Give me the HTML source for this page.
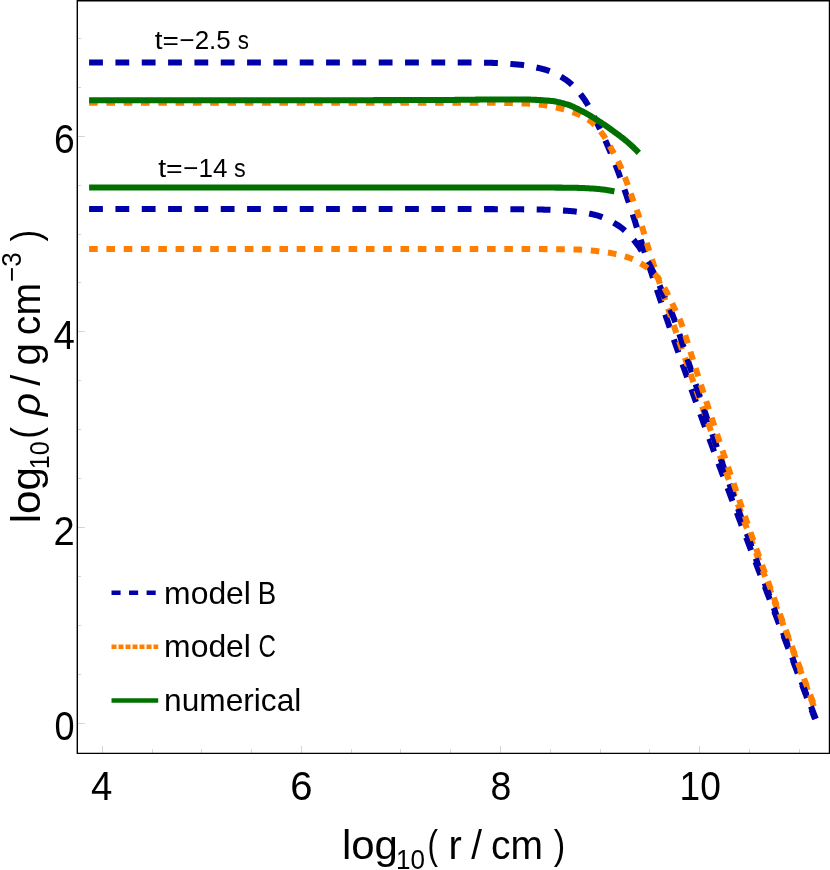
<!DOCTYPE html>
<html><head><meta charset="utf-8"><title>chart</title>
<style>html,body{margin:0;padding:0;background:#fff;}body{width:830px;height:870px;position:relative;overflow:hidden;font-family:"Liberation Sans",sans-serif;}</style></head>
<body>
<svg width="830" height="870" viewBox="0 0 830 870" style="position:absolute;left:0;top:0;will-change:transform;font-family:'Liberation Sans',sans-serif">
<rect x="0" y="0" width="830" height="870" fill="#fff"/>
<path d="M102,746.0 h1 V753.4 h-1 Z M152,749.3 h1 V753.4 h-1 Z M201,749.3 h1 V753.4 h-1 Z M251,749.3 h1 V753.4 h-1 Z M301,746.0 h1 V753.4 h-1 Z M351,749.3 h1 V753.4 h-1 Z M400,749.3 h1 V753.4 h-1 Z M450,749.3 h1 V753.4 h-1 Z M500,746.0 h1 V753.4 h-1 Z M550,749.3 h1 V753.4 h-1 Z M600,749.3 h1 V753.4 h-1 Z M649,749.3 h1 V753.4 h-1 Z M699,746.0 h1 V753.4 h-1 Z M749,749.3 h1 V753.4 h-1 Z M799,749.3 h1 V753.4 h-1 Z M77.3,723 H84.8 v1 H77.3 Z M77.3,674 H81.2 v1 H77.3 Z M77.3,625 H81.2 v1 H77.3 Z M77.3,576 H81.2 v1 H77.3 Z M77.3,527 H84.8 v1 H77.3 Z M77.3,478 H81.2 v1 H77.3 Z M77.3,429 H81.2 v1 H77.3 Z M77.3,380 H81.2 v1 H77.3 Z M77.3,331 H84.8 v1 H77.3 Z M77.3,282 H81.2 v1 H77.3 Z M77.3,234 H81.2 v1 H77.3 Z M77.3,185 H81.2 v1 H77.3 Z M77.3,136 H84.8 v1 H77.3 Z M77.3,87 H81.2 v1 H77.3 Z M77.3,38 H81.2 v1 H77.3 Z" fill="#d4d4d4" stroke="none"/>
<path d="M89.10,62.50 L90.60,62.50 L92.10,62.50 L93.60,62.50 L95.10,62.50 L96.60,62.50 L98.10,62.50 L99.60,62.50 L101.10,62.50 L102.60,62.50 L104.10,62.50 L105.60,62.50 L107.10,62.50 L108.60,62.50 L110.10,62.50 L111.60,62.50 L113.10,62.50 L114.60,62.50 L116.10,62.50 L117.60,62.50 L119.10,62.50 L120.60,62.50 L122.10,62.50 L123.60,62.50 L125.10,62.50 L126.60,62.50 L128.10,62.50 L129.60,62.50 L131.10,62.50 L132.60,62.50 L134.10,62.50 L135.60,62.50 L137.10,62.50 L138.60,62.50 L140.10,62.50 L141.60,62.50 L143.10,62.50 L144.60,62.50 L146.10,62.50 L147.60,62.50 L149.10,62.50 L150.60,62.50 L152.10,62.50 L153.60,62.50 L155.10,62.50 L156.60,62.50 L158.10,62.50 L159.60,62.50 L161.10,62.50 L162.60,62.50 L164.10,62.50 L165.60,62.50 L167.10,62.50 L168.60,62.50 L170.10,62.50 L171.60,62.50 L173.10,62.50 L174.60,62.50 L176.10,62.50 L177.60,62.50 L179.10,62.50 L180.60,62.50 L182.10,62.50 L183.60,62.50 L185.10,62.50 L186.60,62.50 L188.10,62.50 L189.60,62.50 L191.10,62.50 L192.60,62.50 L194.10,62.50 L195.60,62.50 L197.10,62.50 L198.60,62.50 L200.10,62.50 L201.60,62.50 L203.10,62.50 L204.60,62.50 L206.10,62.50 L207.60,62.50 L209.10,62.50 L210.60,62.50 L212.10,62.50 L213.60,62.50 L215.10,62.50 L216.60,62.50 L218.10,62.50 L219.60,62.50 L221.10,62.50 L222.60,62.50 L224.10,62.50 L225.60,62.50 L227.10,62.50 L228.60,62.50 L230.10,62.50 L231.60,62.50 L233.10,62.50 L234.60,62.50 L236.10,62.50 L237.60,62.50 L239.10,62.50 L240.60,62.50 L242.10,62.50 L243.60,62.50 L245.10,62.50 L246.60,62.50 L248.10,62.50 L249.60,62.50 L251.10,62.50 L252.60,62.50 L254.10,62.50 L255.60,62.50 L257.10,62.50 L258.60,62.50 L260.10,62.50 L261.60,62.50 L263.10,62.50 L264.60,62.50 L266.10,62.50 L267.60,62.50 L269.10,62.50 L270.60,62.50 L272.10,62.50 L273.60,62.50 L275.10,62.50 L276.60,62.50 L278.10,62.50 L279.60,62.50 L281.10,62.50 L282.60,62.50 L284.10,62.50 L285.60,62.50 L287.10,62.50 L288.60,62.50 L290.10,62.50 L291.60,62.50 L293.10,62.50 L294.60,62.50 L296.10,62.50 L297.60,62.50 L299.10,62.50 L300.60,62.50 L302.10,62.50 L303.60,62.50 L305.10,62.50 L306.60,62.50 L308.10,62.50 L309.60,62.50 L311.10,62.50 L312.60,62.50 L314.10,62.50 L315.60,62.50 L317.10,62.50 L318.60,62.50 L320.10,62.50 L321.60,62.50 L323.10,62.50 L324.60,62.50 L326.10,62.50 L327.60,62.50 L329.10,62.50 L330.60,62.50 L332.10,62.50 L333.60,62.50 L335.10,62.50 L336.60,62.50 L338.10,62.50 L339.60,62.50 L341.10,62.50 L342.60,62.50 L344.10,62.50 L345.60,62.50 L347.10,62.50 L348.60,62.50 L350.10,62.50 L351.60,62.50 L353.10,62.50 L354.60,62.50 L356.10,62.50 L357.60,62.50 L359.10,62.50 L360.60,62.50 L362.10,62.50 L363.60,62.50 L365.10,62.50 L366.60,62.50 L368.10,62.50 L369.60,62.50 L371.10,62.50 L372.60,62.50 L374.10,62.50 L375.60,62.50 L377.10,62.50 L378.60,62.50 L380.10,62.50 L381.60,62.50 L383.10,62.50 L384.60,62.50 L386.10,62.50 L387.60,62.50 L389.10,62.50 L390.60,62.50 L392.10,62.50 L393.60,62.50 L395.10,62.50 L396.60,62.50 L398.10,62.50 L399.60,62.50 L401.10,62.50 L402.60,62.50 L404.10,62.50 L405.60,62.50 L407.10,62.50 L408.60,62.50 L410.10,62.50 L411.60,62.50 L413.10,62.50 L414.60,62.50 L416.10,62.50 L417.60,62.50 L419.10,62.50 L420.60,62.50 L422.10,62.50 L423.60,62.50 L425.10,62.50 L426.60,62.50 L428.10,62.50 L429.60,62.50 L431.10,62.50 L432.60,62.50 L434.10,62.50 L435.60,62.50 L437.10,62.50 L438.60,62.50 L440.10,62.50 L441.60,62.50 L443.10,62.50 L444.60,62.50 L446.10,62.50 L447.60,62.50 L449.10,62.50 L450.60,62.50 L452.10,62.50 L453.60,62.50 L455.10,62.51 L456.60,62.51 L458.10,62.51 L459.60,62.52 L461.10,62.52 L462.60,62.53 L464.10,62.54 L465.60,62.54 L467.10,62.55 L468.60,62.56 L470.10,62.57 L471.60,62.58 L473.10,62.60 L474.60,62.61 L476.10,62.62 L477.60,62.63 L479.10,62.65 L480.60,62.66 L482.10,62.68 L483.60,62.69 L485.10,62.71 L486.60,62.73 L488.10,62.76 L489.60,62.80 L491.10,62.84 L492.60,62.89 L494.10,62.95 L495.60,63.02 L497.11,63.09 L498.61,63.16 L500.11,63.24 L501.61,63.33 L503.11,63.42 L504.61,63.52 L506.10,63.62 L507.60,63.72 L509.10,63.83 L510.59,63.95 L512.09,64.06 L513.58,64.18 L515.07,64.30 L516.56,64.43 L518.05,64.56 L519.54,64.70 L521.03,64.86 L522.53,65.04 L524.03,65.24 L525.53,65.45 L527.02,65.68 L528.52,65.92 L530.01,66.18 L531.50,66.45 L532.99,66.74 L534.46,67.04 L535.93,67.35 L537.39,67.68 L538.85,68.01 L540.29,68.36 L541.72,68.72 L543.13,69.09 L544.55,69.49 L545.98,69.94 L547.40,70.42 L548.83,70.93 L550.25,71.49 L551.67,72.07 L553.08,72.69 L554.48,73.33 L555.87,74.00 L557.25,74.69 L558.60,75.41 L559.94,76.15 L561.25,76.90 L562.53,77.67 L563.79,78.46 L565.02,79.25 L566.21,80.06 L567.38,80.88 L568.52,81.76 L569.66,82.67 L570.78,83.64 L571.89,84.64 L572.98,85.69 L574.05,86.76 L575.11,87.87 L576.15,89.00 L577.17,90.16 L578.17,91.33 L579.15,92.52 L580.12,93.72 L581.06,94.93 L581.97,96.15 L582.87,97.36 L583.74,98.58 L584.59,99.78 L585.41,101.00 L586.21,102.23 L586.99,103.49 L587.76,104.76 L588.50,106.05 L589.23,107.36 L589.95,108.68 L590.65,110.01 L591.34,111.35 L592.03,112.70 L592.70,114.06 L593.37,115.42 L594.03,116.78 L594.69,118.15 L595.34,119.51 L596.00,120.88 L596.65,122.24 L597.31,123.60 L597.97,124.94 L598.64,126.29 L599.30,127.63 L599.95,128.98 L600.61,130.33 L601.26,131.68 L601.90,133.04 L602.54,134.40 L603.18,135.76 L603.81,137.12 L604.44,138.48 L605.06,139.85 L605.68,141.21 L606.30,142.58 L606.91,143.95 L607.51,145.32 L608.11,146.70 L608.70,148.07 L609.29,149.45 L609.88,150.83 L610.46,152.22 L611.03,153.60 L611.61,154.99 L612.17,156.38 L612.74,157.77 L613.30,159.16 L613.85,160.56 L614.40,161.95 L614.95,163.35 L615.49,164.75 L616.03,166.15 L616.57,167.55 L617.10,168.95 L617.63,170.35 L618.16,171.76 L618.68,173.16 L619.19,174.57 L619.71,175.98 L620.21,177.39 L620.72,178.80 L621.22,180.22 L621.72,181.63 L622.22,183.05 L622.71,184.47 L623.20,185.88 L623.69,187.30 L624.18,188.72 L624.67,190.14 L625.16,191.56 L625.64,192.98 L626.12,194.40 L626.61,195.82 L627.09,197.24 L627.57,198.66 L628.05,200.08 L628.53,201.50 L629.00,202.93 L629.48,204.35 L629.95,205.77 L630.42,207.20 L630.89,208.62 L631.36,210.05 L631.82,211.48 L632.28,212.90 L632.74,214.33 L633.20,215.76 L633.65,217.19 L634.11,218.61 L634.56,220.04 L635.00,221.48 L635.45,222.91 L635.89,224.34 L636.34,225.77 L636.78,227.21 L637.23,228.64 L637.67,230.07 L638.12,231.51 L638.57,232.94 L639.02,234.37 L639.47,235.80 L639.92,237.23 L640.37,238.66 L640.82,240.09 L641.28,241.52 L641.73,242.95 L642.19,244.38 L642.64,245.81 L643.10,247.24 L643.55,248.67 L644.01,250.09 L644.47,251.52 L644.93,252.95 L645.38,254.38 L645.84,255.81 L646.30,257.24 L646.77,258.66 L647.23,260.09 L647.69,261.52 L648.15,262.94 L648.61,264.37 L649.08,265.80 L649.54,267.22 L650.01,268.65 L650.47,270.08 L650.94,271.50 L651.41,272.93 L651.87,274.35 L652.34,275.78 L652.81,277.20 L653.28,278.63 L653.75,280.05 L654.22,281.48 L654.69,282.90 L655.16,284.32 L655.63,285.75 L656.10,287.17 L656.58,288.60 L657.05,290.02 L657.53,291.44 L658.00,292.86 L658.48,294.29 L658.95,295.71 L659.43,297.13 L659.90,298.55 L660.38,299.98 L660.86,301.40 L661.34,302.82 L661.82,304.24 L662.30,305.66 L662.78,307.08 L663.26,308.51 L663.74,309.93 L664.22,311.35 L664.70,312.77 L665.18,314.19 L665.66,315.61 L666.15,317.03 L666.63,318.45 L667.12,319.87 L667.60,321.29 L668.09,322.71 L668.57,324.12 L669.06,325.54 L669.55,326.96 L670.03,328.38 L670.52,329.80 L671.01,331.22 L671.50,332.64 L671.99,334.05 L672.48,335.47 L672.97,336.89 L673.46,338.31 L673.95,339.72 L674.44,341.14 L674.93,342.56 L675.42,343.98 L675.92,345.39 L676.41,346.81 L676.90,348.23 L677.40,349.64 L677.89,351.06 L678.39,352.47 L678.88,353.89 L679.38,355.31 L679.88,356.72 L680.37,358.14 L680.87,359.55 L681.37,360.97 L681.86,362.38 L682.36,363.80 L682.86,365.21 L683.36,366.63 L683.86,368.04 L684.36,369.45 L684.86,370.87 L685.36,372.28 L685.86,373.70 L686.36,375.11 L686.87,376.52 L687.37,377.94 L687.87,379.35 L688.37,380.76 L688.88,382.18 L689.38,383.59 L689.89,385.00 L690.39,386.41 L690.90,387.83 L691.40,389.24 L691.91,390.65 L692.41,392.06 L692.92,393.47 L693.43,394.89 L693.93,396.30 L694.44,397.71 L694.95,399.12 L695.46,400.53 L695.97,401.94 L696.47,403.35 L696.98,404.77 L697.49,406.18 L698.00,407.59 L698.51,409.00 L699.02,410.41 L699.54,411.82 L700.05,413.23 L700.56,414.64 L701.07,416.05 L701.58,417.46 L702.09,418.87 L702.61,420.28 L703.12,421.69 L703.63,423.10 L704.15,424.51 L704.66,425.92 L705.18,427.32 L705.69,428.73 L706.21,430.14 L706.72,431.55 L707.24,432.96 L707.75,434.37 L708.27,435.78 L708.78,437.18 L709.30,438.59 L709.82,440.00 L710.33,441.41 L710.85,442.82 L711.37,444.22 L711.89,445.63 L712.41,447.04 L712.92,448.45 L713.44,449.86 L713.96,451.26 L714.48,452.67 L715.00,454.08 L715.52,455.48 L716.04,456.89 L716.56,458.30 L717.08,459.70 L717.60,461.11 L718.12,462.52 L718.65,463.92 L719.17,465.33 L719.69,466.74 L720.21,468.14 L720.73,469.55 L721.26,470.96 L721.78,472.36 L722.30,473.77 L722.82,475.17 L723.35,476.58 L723.87,477.98 L724.39,479.39 L724.92,480.80 L725.44,482.20 L725.97,483.61 L726.49,485.01 L727.02,486.42 L727.54,487.82 L728.07,489.23 L728.59,490.63 L729.12,492.04 L729.64,493.44 L730.17,494.85 L730.69,496.25 L731.22,497.66 L731.75,499.06 L732.27,500.47 L732.80,501.87 L733.33,503.27 L733.86,504.68 L734.38,506.08 L734.91,507.49 L735.44,508.89 L735.97,510.30 L736.49,511.70 L737.02,513.10 L737.55,514.51 L738.08,515.91 L738.61,517.31 L739.14,518.72 L739.66,520.12 L740.19,521.53 L740.72,522.93 L741.25,524.33 L741.78,525.74 L742.31,527.14 L742.84,528.54 L743.37,529.95 L743.90,531.35 L744.43,532.75 L744.96,534.16 L745.49,535.56 L746.02,536.96 L746.55,538.37 L747.08,539.77 L747.61,541.17 L748.14,542.57 L748.67,543.98 L749.21,545.38 L749.74,546.78 L750.27,548.19 L750.80,549.59 L751.33,550.99 L751.86,552.39 L752.39,553.80 L752.93,555.20 L753.46,556.60 L753.99,558.00 L754.52,559.41 L755.05,560.81 L755.59,562.21 L756.12,563.61 L756.65,565.02 L757.18,566.42 L757.71,567.82 L758.25,569.22 L758.78,570.63 L759.31,572.03 L759.84,573.43 L760.38,574.83 L760.91,576.23 L761.44,577.64 L761.98,579.04 L762.51,580.44 L763.04,581.84 L763.57,583.25 L764.11,584.65 L764.64,586.05 L765.17,587.45 L765.71,588.85 L766.24,590.26 L766.77,591.66 L767.31,593.06 L767.84,594.46 L768.37,595.86 L768.91,597.27 L769.44,598.67 L769.97,600.07 L770.51,601.47 L771.04,602.87 L771.57,604.28 L772.11,605.68 L772.64,607.08 L773.17,608.48 L773.71,609.88 L774.24,611.29 L774.77,612.69 L775.31,614.09 L775.84,615.49 L776.37,616.89 L776.90,618.30 L777.44,619.70 L777.97,621.10 L778.50,622.50 L779.04,623.90 L779.57,625.31 L780.10,626.71 L780.64,628.11 L781.17,629.51 L781.70,630.91 L782.24,632.32 L782.77,633.72 L783.30,635.12 L783.83,636.52 L784.37,637.93 L784.90,639.33 L785.43,640.73 L785.97,642.13 L786.50,643.53 L787.03,644.94 L787.56,646.34 L788.10,647.74 L788.63,649.14 L789.16,650.55 L789.69,651.95 L790.22,653.35 L790.76,654.75 L791.29,656.16 L791.82,657.56 L792.35,658.96 L792.88,660.36 L793.42,661.77 L793.95,663.17 L794.48,664.57 L795.01,665.97 L795.54,667.38 L796.07,668.78 L796.60,670.18 L797.13,671.59 L797.66,672.99 L798.20,674.39 L798.73,675.79 L799.26,677.20 L799.79,678.60 L800.32,680.00 L800.85,681.41 L801.38,682.81 L801.91,684.21 L802.44,685.62 L802.97,687.02 L803.50,688.42 L804.03,689.83 L804.56,691.23 L805.08,692.63 L805.61,694.04 L806.14,695.44 L806.67,696.85 L807.20,698.25 L807.73,699.65 L808.26,701.06 L808.78,702.46 L809.31,703.86 L809.84,705.27 L810.37,706.67 L810.89,708.08 L811.42,709.48 L811.95,710.89 L812.48,712.29 L813.00,713.69 L813.53,715.10 L814.06,716.50 L814.58,717.91 L814.95,718.90" stroke="#0000AA" stroke-width="6.05" fill="none" stroke-dasharray="13.8 12.53" stroke-linejoin="round"/>
<path d="M89.10,102.70 L90.60,102.70 L92.10,102.70 L93.60,102.70 L95.10,102.70 L96.60,102.70 L98.10,102.70 L99.60,102.70 L101.10,102.70 L102.60,102.70 L104.10,102.70 L105.60,102.70 L107.10,102.70 L108.60,102.70 L110.10,102.70 L111.60,102.70 L113.10,102.70 L114.60,102.70 L116.10,102.70 L117.60,102.70 L119.10,102.70 L120.60,102.70 L122.10,102.70 L123.60,102.70 L125.10,102.70 L126.60,102.70 L128.10,102.70 L129.60,102.70 L131.10,102.70 L132.60,102.70 L134.10,102.70 L135.60,102.70 L137.10,102.70 L138.60,102.70 L140.10,102.70 L141.60,102.70 L143.10,102.70 L144.60,102.70 L146.10,102.70 L147.60,102.70 L149.10,102.70 L150.60,102.70 L152.10,102.70 L153.60,102.70 L155.10,102.70 L156.60,102.70 L158.10,102.70 L159.60,102.70 L161.10,102.70 L162.60,102.70 L164.10,102.70 L165.60,102.70 L167.10,102.70 L168.60,102.70 L170.10,102.70 L171.60,102.70 L173.10,102.70 L174.60,102.70 L176.10,102.70 L177.60,102.70 L179.10,102.70 L180.60,102.70 L182.10,102.70 L183.60,102.70 L185.10,102.70 L186.60,102.70 L188.10,102.70 L189.60,102.70 L191.10,102.70 L192.60,102.70 L194.10,102.70 L195.60,102.70 L197.10,102.70 L198.60,102.70 L200.10,102.70 L201.60,102.70 L203.10,102.70 L204.60,102.70 L206.10,102.70 L207.60,102.70 L209.10,102.70 L210.60,102.70 L212.10,102.70 L213.60,102.70 L215.10,102.70 L216.60,102.70 L218.10,102.70 L219.60,102.70 L221.10,102.70 L222.60,102.70 L224.10,102.70 L225.60,102.70 L227.10,102.70 L228.60,102.70 L230.10,102.70 L231.60,102.70 L233.10,102.70 L234.60,102.70 L236.10,102.70 L237.60,102.70 L239.10,102.70 L240.60,102.70 L242.10,102.70 L243.60,102.70 L245.10,102.70 L246.60,102.70 L248.10,102.70 L249.60,102.70 L251.10,102.70 L252.60,102.70 L254.10,102.70 L255.60,102.70 L257.10,102.70 L258.60,102.70 L260.10,102.70 L261.60,102.70 L263.10,102.70 L264.60,102.70 L266.10,102.70 L267.60,102.70 L269.10,102.70 L270.60,102.70 L272.10,102.70 L273.60,102.70 L275.10,102.70 L276.60,102.70 L278.10,102.70 L279.60,102.70 L281.10,102.70 L282.60,102.70 L284.10,102.70 L285.60,102.70 L287.10,102.70 L288.60,102.70 L290.10,102.70 L291.60,102.70 L293.10,102.70 L294.60,102.70 L296.10,102.70 L297.60,102.70 L299.10,102.70 L300.60,102.70 L302.10,102.70 L303.60,102.70 L305.10,102.70 L306.60,102.70 L308.10,102.70 L309.60,102.70 L311.10,102.70 L312.60,102.70 L314.10,102.70 L315.60,102.70 L317.10,102.70 L318.60,102.70 L320.10,102.70 L321.60,102.70 L323.10,102.70 L324.60,102.70 L326.10,102.70 L327.60,102.70 L329.10,102.70 L330.60,102.70 L332.10,102.70 L333.60,102.70 L335.10,102.70 L336.60,102.70 L338.10,102.70 L339.60,102.70 L341.10,102.70 L342.60,102.70 L344.10,102.70 L345.60,102.70 L347.10,102.70 L348.60,102.70 L350.10,102.70 L351.60,102.70 L353.10,102.70 L354.60,102.70 L356.10,102.70 L357.60,102.70 L359.10,102.70 L360.60,102.70 L362.10,102.70 L363.60,102.70 L365.10,102.70 L366.60,102.70 L368.10,102.70 L369.60,102.70 L371.10,102.70 L372.60,102.70 L374.10,102.70 L375.60,102.70 L377.10,102.70 L378.60,102.70 L380.10,102.70 L381.60,102.70 L383.10,102.70 L384.60,102.70 L386.10,102.70 L387.60,102.70 L389.10,102.70 L390.60,102.70 L392.10,102.70 L393.60,102.70 L395.10,102.70 L396.60,102.70 L398.10,102.70 L399.60,102.70 L401.10,102.70 L402.60,102.70 L404.10,102.70 L405.60,102.70 L407.10,102.70 L408.60,102.70 L410.10,102.70 L411.60,102.70 L413.10,102.70 L414.60,102.70 L416.10,102.70 L417.60,102.70 L419.10,102.70 L420.60,102.70 L422.10,102.70 L423.60,102.70 L425.10,102.70 L426.60,102.70 L428.10,102.70 L429.60,102.70 L431.10,102.70 L432.60,102.70 L434.10,102.70 L435.60,102.70 L437.10,102.70 L438.60,102.70 L440.10,102.70 L441.60,102.70 L443.10,102.70 L444.60,102.70 L446.10,102.70 L447.60,102.70 L449.10,102.70 L450.60,102.70 L452.10,102.70 L453.60,102.70 L455.10,102.70 L456.60,102.70 L458.10,102.71 L459.60,102.71 L461.10,102.71 L462.60,102.71 L464.10,102.71 L465.60,102.72 L467.10,102.72 L468.60,102.73 L470.10,102.73 L471.60,102.73 L473.10,102.74 L474.60,102.74 L476.10,102.75 L477.60,102.75 L479.10,102.76 L480.60,102.76 L482.10,102.77 L483.60,102.78 L485.10,102.78 L486.60,102.79 L488.10,102.80 L489.60,102.80 L491.10,102.81 L492.60,102.82 L494.10,102.83 L495.60,102.85 L497.10,102.87 L498.60,102.88 L500.10,102.90 L501.60,102.93 L503.10,102.95 L504.60,102.98 L506.10,103.01 L507.60,103.03 L509.10,103.07 L510.60,103.10 L512.10,103.13 L513.60,103.17 L515.10,103.21 L516.60,103.25 L518.10,103.29 L519.60,103.34 L521.10,103.38 L522.60,103.43 L524.09,103.48 L525.59,103.53 L527.09,103.59 L528.59,103.67 L530.09,103.76 L531.59,103.86 L533.09,103.97 L534.59,104.09 L536.08,104.21 L537.58,104.35 L539.07,104.50 L540.56,104.65 L542.05,104.82 L543.53,104.99 L545.01,105.19 L546.49,105.42 L547.97,105.68 L549.44,105.96 L550.92,106.27 L552.39,106.59 L553.86,106.92 L555.32,107.26 L556.78,107.61 L558.24,107.97 L559.69,108.32 L561.15,108.68 L562.61,109.05 L564.07,109.44 L565.52,109.84 L566.97,110.25 L568.42,110.68 L569.86,111.13 L571.29,111.60 L572.70,112.08 L574.10,112.59 L575.49,113.12 L576.87,113.67 L578.25,114.26 L579.63,114.88 L581.01,115.53 L582.37,116.22 L583.72,116.93 L585.05,117.67 L586.36,118.44 L587.63,119.24 L588.87,120.06 L590.06,120.90 L591.22,121.78 L592.35,122.71 L593.46,123.69 L594.55,124.72 L595.62,125.79 L596.66,126.90 L597.68,128.04 L598.68,129.20 L599.65,130.38 L600.60,131.57 L601.52,132.76 L602.42,133.96 L603.29,135.15 L604.13,136.38 L604.94,137.62 L605.73,138.90 L606.51,140.18 L607.26,141.49 L608.01,142.80 L608.74,144.12 L609.47,145.44 L610.20,146.77 L610.93,148.08 L611.66,149.39 L612.40,150.70 L613.14,152.01 L613.87,153.32 L614.59,154.64 L615.31,155.95 L616.02,157.28 L616.72,158.61 L617.41,159.94 L618.08,161.28 L618.73,162.63 L619.36,163.98 L619.98,165.34 L620.59,166.71 L621.19,168.09 L621.77,169.47 L622.35,170.86 L622.92,172.25 L623.47,173.64 L624.03,175.04 L624.57,176.44 L625.11,177.84 L625.65,179.24 L626.18,180.64 L626.70,182.05 L627.21,183.46 L627.71,184.87 L628.20,186.29 L628.69,187.71 L629.17,189.13 L629.66,190.55 L630.14,191.97 L630.63,193.39 L631.12,194.81 L631.62,196.22 L632.13,197.63 L632.65,199.04 L633.17,200.45 L633.70,201.85 L634.23,203.25 L634.77,204.66 L635.30,206.06 L635.82,207.47 L636.34,208.87 L636.85,210.28 L637.35,211.70 L637.84,213.11 L638.31,214.54 L638.77,215.96 L639.23,217.39 L639.68,218.82 L640.12,220.26 L640.56,221.69 L640.99,223.13 L641.42,224.56 L641.85,226.00 L642.28,227.44 L642.71,228.88 L643.14,230.31 L643.56,231.75 L643.98,233.19 L644.39,234.63 L644.80,236.08 L645.21,237.52 L645.63,238.96 L646.05,240.40 L646.47,241.84 L646.89,243.28 L647.32,244.72 L647.76,246.15 L648.21,247.59 L648.65,249.02 L649.11,250.45 L649.56,251.88 L650.02,253.31 L650.48,254.74 L650.93,256.17 L651.39,257.59 L651.85,259.02 L652.31,260.45 L652.77,261.88 L653.23,263.31 L653.69,264.73 L654.15,266.16 L654.61,267.59 L655.07,269.02 L655.53,270.44 L655.99,271.87 L656.45,273.30 L656.92,274.72 L657.38,276.15 L657.85,277.58 L658.31,279.00 L658.78,280.43 L659.24,281.85 L659.71,283.28 L660.18,284.71 L660.64,286.13 L661.11,287.56 L661.58,288.98 L662.05,290.40 L662.52,291.83 L662.99,293.25 L663.46,294.68 L663.93,296.10 L664.41,297.53 L664.88,298.95 L665.35,300.37 L665.83,301.80 L666.30,303.22 L666.78,304.64 L667.25,306.06 L667.73,307.49 L668.20,308.91 L668.68,310.33 L669.16,311.75 L669.64,313.17 L670.11,314.60 L670.59,316.02 L671.07,317.44 L671.55,318.86 L672.03,320.28 L672.51,321.70 L673.00,323.12 L673.48,324.54 L673.96,325.96 L674.44,327.38 L674.93,328.80 L675.41,330.22 L675.90,331.64 L676.38,333.06 L676.87,334.48 L677.35,335.90 L677.84,337.32 L678.32,338.74 L678.81,340.16 L679.30,341.58 L679.79,342.99 L680.27,344.41 L680.76,345.83 L681.25,347.25 L681.74,348.67 L682.23,350.08 L682.72,351.50 L683.22,352.92 L683.71,354.34 L684.20,355.75 L684.69,357.17 L685.18,358.59 L685.68,360.00 L686.17,361.42 L686.66,362.84 L687.16,364.25 L687.65,365.67 L688.15,367.08 L688.65,368.50 L689.14,369.92 L689.64,371.33 L690.13,372.75 L690.63,374.16 L691.13,375.58 L691.63,376.99 L692.13,378.41 L692.63,379.82 L693.12,381.24 L693.62,382.65 L694.12,384.06 L694.62,385.48 L695.13,386.89 L695.63,388.31 L696.13,389.72 L696.63,391.13 L697.13,392.55 L697.63,393.96 L698.14,395.37 L698.64,396.79 L699.14,398.20 L699.65,399.61 L700.15,401.02 L700.66,402.44 L701.16,403.85 L701.67,405.26 L702.17,406.67 L702.68,408.09 L703.19,409.50 L703.69,410.91 L704.20,412.32 L704.71,413.73 L705.21,415.14 L705.72,416.56 L706.23,417.97 L706.74,419.38 L707.25,420.79 L707.76,422.20 L708.27,423.61 L708.78,425.02 L709.29,426.43 L709.80,427.84 L710.31,429.25 L710.82,430.66 L711.33,432.07 L711.84,433.48 L712.35,434.89 L712.87,436.30 L713.38,437.71 L713.89,439.12 L714.40,440.53 L714.92,441.94 L715.43,443.35 L715.95,444.76 L716.46,446.17 L716.97,447.58 L717.49,448.99 L718.00,450.40 L718.52,451.80 L719.03,453.21 L719.55,454.62 L720.07,456.03 L720.58,457.44 L721.10,458.85 L721.62,460.26 L722.13,461.66 L722.65,463.07 L723.17,464.48 L723.68,465.89 L724.20,467.29 L724.72,468.70 L725.24,470.11 L725.76,471.52 L726.28,472.93 L726.79,474.33 L727.31,475.74 L727.83,477.15 L728.35,478.55 L728.87,479.96 L729.39,481.37 L729.91,482.77 L730.43,484.18 L730.95,485.59 L731.48,487.00 L732.00,488.40 L732.52,489.81 L733.04,491.21 L733.56,492.62 L734.08,494.03 L734.61,495.43 L735.13,496.84 L735.65,498.25 L736.17,499.65 L736.69,501.06 L737.22,502.46 L737.74,503.87 L738.26,505.28 L738.79,506.68 L739.31,508.09 L739.84,509.49 L740.36,510.90 L740.88,512.30 L741.41,513.71 L741.93,515.11 L742.46,516.52 L742.98,517.92 L743.51,519.33 L744.03,520.73 L744.56,522.14 L745.08,523.54 L745.61,524.95 L746.13,526.35 L746.66,527.76 L747.18,529.16 L747.71,530.57 L748.24,531.97 L748.76,533.38 L749.29,534.78 L749.81,536.19 L750.34,537.59 L750.87,539.00 L751.39,540.40 L751.92,541.81 L752.45,543.21 L752.98,544.61 L753.50,546.02 L754.03,547.42 L754.56,548.83 L755.08,550.23 L755.61,551.64 L756.14,553.04 L756.67,554.44 L757.20,555.85 L757.72,557.25 L758.25,558.66 L758.78,560.06 L759.31,561.46 L759.84,562.87 L760.36,564.27 L760.89,565.68 L761.42,567.08 L761.95,568.48 L762.48,569.89 L763.01,571.29 L763.54,572.69 L764.06,574.10 L764.59,575.50 L765.12,576.91 L765.65,578.31 L766.18,579.71 L766.71,581.12 L767.24,582.52 L767.77,583.92 L768.30,585.33 L768.82,586.73 L769.35,588.13 L769.88,589.54 L770.41,590.94 L770.94,592.35 L771.47,593.75 L772.00,595.15 L772.53,596.56 L773.06,597.96 L773.59,599.36 L774.12,600.77 L774.65,602.17 L775.18,603.57 L775.71,604.98 L776.24,606.38 L776.76,607.78 L777.29,609.19 L777.82,610.59 L778.35,611.99 L778.88,613.40 L779.41,614.80 L779.94,616.20 L780.47,617.61 L781.00,619.01 L781.53,620.41 L782.06,621.82 L782.59,623.22 L783.12,624.63 L783.65,626.03 L784.17,627.43 L784.70,628.84 L785.23,630.24 L785.76,631.64 L786.29,633.05 L786.82,634.45 L787.35,635.85 L787.88,637.26 L788.41,638.66 L788.94,640.07 L789.46,641.47 L789.99,642.87 L790.52,644.28 L791.05,645.68 L791.58,647.08 L792.11,648.49 L792.64,649.89 L793.16,651.30 L793.69,652.70 L794.22,654.10 L794.75,655.51 L795.28,656.91 L795.80,658.32 L796.33,659.72 L796.86,661.12 L797.39,662.53 L797.91,663.93 L798.44,665.34 L798.97,666.74 L799.50,668.14 L800.02,669.55 L800.55,670.95 L801.08,672.36 L801.61,673.76 L802.13,675.17 L802.66,676.57 L803.18,677.98 L803.71,679.38 L804.24,680.79 L804.76,682.19 L805.29,683.59 L805.82,685.00 L806.34,686.40 L806.87,687.81 L807.39,689.21 L807.92,690.62 L808.44,692.02 L808.97,693.43 L809.49,694.83 L810.02,696.24 L810.54,697.64 L811.07,699.05 L811.59,700.46 L812.12,701.86 L812.64,703.27 L813.16,704.67 L813.69,706.08 L814.21,707.48 L814.74,708.89 L815.26,710.29 L815.48,710.90" stroke="#FF8000" stroke-width="6.05" fill="none" stroke-dasharray="8.6 8.70" stroke-linejoin="round"/>
<path d="M89.10,100.20 L90.60,100.20 L92.10,100.20 L93.60,100.20 L95.10,100.20 L96.60,100.20 L98.10,100.20 L99.60,100.20 L101.10,100.20 L102.60,100.20 L104.10,100.20 L105.60,100.20 L107.10,100.20 L108.60,100.20 L110.10,100.20 L111.60,100.20 L113.10,100.20 L114.60,100.20 L116.10,100.20 L117.60,100.20 L119.10,100.20 L120.60,100.20 L122.10,100.20 L123.60,100.20 L125.10,100.20 L126.60,100.20 L128.10,100.20 L129.60,100.20 L131.10,100.20 L132.60,100.20 L134.10,100.20 L135.60,100.20 L137.10,100.20 L138.60,100.20 L140.10,100.20 L141.60,100.20 L143.10,100.20 L144.60,100.20 L146.10,100.20 L147.60,100.20 L149.10,100.20 L150.60,100.20 L152.10,100.20 L153.60,100.20 L155.10,100.20 L156.60,100.20 L158.10,100.20 L159.60,100.20 L161.10,100.20 L162.60,100.20 L164.10,100.20 L165.60,100.20 L167.10,100.20 L168.60,100.20 L170.10,100.20 L171.60,100.20 L173.10,100.20 L174.60,100.20 L176.10,100.20 L177.60,100.20 L179.10,100.20 L180.60,100.20 L182.10,100.20 L183.60,100.20 L185.10,100.20 L186.60,100.20 L188.10,100.20 L189.60,100.20 L191.10,100.20 L192.60,100.20 L194.10,100.20 L195.60,100.20 L197.10,100.20 L198.60,100.20 L200.10,100.20 L201.60,100.20 L203.10,100.20 L204.60,100.20 L206.10,100.20 L207.60,100.20 L209.10,100.20 L210.60,100.20 L212.10,100.20 L213.60,100.20 L215.10,100.20 L216.60,100.20 L218.10,100.20 L219.60,100.20 L221.10,100.20 L222.60,100.20 L224.10,100.20 L225.60,100.20 L227.10,100.20 L228.60,100.20 L230.10,100.20 L231.60,100.20 L233.10,100.20 L234.60,100.20 L236.10,100.20 L237.60,100.20 L239.10,100.20 L240.60,100.20 L242.10,100.20 L243.60,100.20 L245.10,100.20 L246.60,100.20 L248.10,100.20 L249.60,100.20 L251.10,100.20 L252.60,100.20 L254.10,100.20 L255.60,100.20 L257.10,100.20 L258.60,100.20 L260.10,100.20 L261.60,100.20 L263.10,100.20 L264.60,100.20 L266.10,100.20 L267.60,100.20 L269.10,100.20 L270.60,100.20 L272.10,100.20 L273.60,100.20 L275.10,100.20 L276.60,100.20 L278.10,100.20 L279.60,100.20 L281.10,100.20 L282.60,100.20 L284.10,100.20 L285.60,100.20 L287.10,100.20 L288.60,100.20 L290.10,100.20 L291.60,100.20 L293.10,100.20 L294.60,100.20 L296.10,100.20 L297.60,100.20 L299.10,100.20 L300.60,100.20 L302.10,100.20 L303.60,100.20 L305.10,100.20 L306.60,100.20 L308.10,100.20 L309.60,100.20 L311.10,100.20 L312.60,100.20 L314.10,100.20 L315.60,100.20 L317.10,100.20 L318.60,100.20 L320.10,100.20 L321.60,100.20 L323.10,100.19 L324.60,100.19 L326.10,100.19 L327.60,100.19 L329.10,100.19 L330.60,100.19 L332.10,100.19 L333.60,100.19 L335.10,100.19 L336.60,100.19 L338.10,100.19 L339.60,100.18 L341.10,100.18 L342.60,100.18 L344.10,100.18 L345.60,100.18 L347.10,100.18 L348.60,100.18 L350.10,100.17 L351.60,100.17 L353.10,100.17 L354.60,100.17 L356.10,100.17 L357.60,100.17 L359.10,100.17 L360.60,100.16 L362.10,100.16 L363.60,100.16 L365.10,100.16 L366.60,100.16 L368.10,100.15 L369.60,100.15 L371.10,100.15 L372.60,100.15 L374.10,100.14 L375.60,100.14 L377.10,100.14 L378.60,100.14 L380.10,100.14 L381.60,100.13 L383.10,100.13 L384.60,100.13 L386.10,100.13 L387.60,100.12 L389.10,100.12 L390.60,100.12 L392.10,100.11 L393.60,100.11 L395.10,100.11 L396.60,100.11 L398.10,100.10 L399.60,100.10 L401.10,100.10 L402.60,100.09 L404.10,100.09 L405.60,100.09 L407.10,100.08 L408.60,100.08 L410.10,100.08 L411.60,100.07 L413.10,100.07 L414.60,100.07 L416.10,100.06 L417.60,100.06 L419.10,100.06 L420.60,100.05 L422.10,100.05 L423.60,100.04 L425.10,100.04 L426.60,100.04 L428.10,100.03 L429.60,100.03 L431.10,100.02 L432.60,100.02 L434.10,100.02 L435.60,100.01 L437.10,100.01 L438.60,100.00 L440.10,100.00 L441.60,99.99 L443.10,99.99 L444.60,99.98 L446.10,99.97 L447.60,99.96 L449.10,99.94 L450.60,99.93 L452.10,99.91 L453.60,99.90 L455.10,99.88 L456.60,99.86 L458.10,99.84 L459.60,99.82 L461.10,99.80 L462.60,99.79 L464.10,99.77 L465.60,99.75 L467.10,99.73 L468.60,99.71 L470.10,99.69 L471.60,99.68 L473.10,99.66 L474.60,99.65 L476.10,99.63 L477.60,99.62 L479.10,99.61 L480.60,99.60 L482.10,99.59 L483.60,99.58 L485.10,99.57 L486.60,99.55 L488.10,99.54 L489.60,99.53 L491.10,99.52 L492.60,99.51 L494.10,99.50 L495.60,99.49 L497.10,99.48 L498.60,99.48 L500.10,99.47 L501.60,99.46 L503.10,99.45 L504.60,99.44 L506.10,99.43 L507.60,99.43 L509.10,99.42 L510.60,99.42 L512.10,99.41 L513.60,99.41 L515.10,99.40 L516.60,99.40 L518.10,99.40 L519.60,99.40 L521.10,99.40 L522.60,99.41 L524.10,99.43 L525.60,99.46 L527.11,99.50 L528.61,99.54 L530.11,99.59 L531.62,99.65 L533.12,99.71 L534.62,99.78 L536.12,99.86 L537.62,99.94 L539.12,100.03 L540.62,100.12 L542.12,100.22 L543.61,100.32 L545.10,100.42 L546.59,100.53 L548.08,100.64 L549.56,100.76 L551.05,100.92 L552.54,101.11 L554.03,101.34 L555.51,101.60 L557.00,101.89 L558.48,102.20 L559.96,102.53 L561.42,102.89 L562.88,103.26 L564.33,103.64 L565.76,104.04 L567.18,104.44 L568.59,104.90 L569.99,105.41 L571.37,105.97 L572.75,106.57 L574.12,107.21 L575.48,107.87 L576.84,108.55 L578.19,109.24 L579.53,109.93 L580.87,110.62 L582.20,111.31 L583.52,112.00 L584.84,112.71 L586.15,113.43 L587.46,114.17 L588.76,114.92 L590.06,115.68 L591.35,116.45 L592.64,117.23 L593.92,118.01 L595.19,118.81 L596.47,119.61 L597.73,120.41 L599.00,121.21 L600.26,122.02 L601.51,122.84 L602.76,123.67 L604.00,124.51 L605.24,125.36 L606.47,126.22 L607.70,127.09 L608.92,127.96 L610.14,128.83 L611.36,129.71 L612.57,130.59 L613.78,131.48 L614.99,132.36 L616.20,133.25 L617.42,134.14 L618.62,135.03 L619.83,135.93 L621.03,136.83 L622.22,137.75 L623.40,138.67 L624.57,139.61 L625.73,140.55 L626.87,141.52 L628.01,142.49 L629.13,143.48 L630.25,144.48 L631.36,145.49 L632.46,146.51 L633.55,147.54 L634.63,148.58 L635.70,149.64 L636.76,150.70 L637.82,151.78 L638.80,152.80" stroke="#007100" stroke-width="6.05" fill="none" stroke-linejoin="round"/>
<path d="M89.10,209.00 L90.60,209.00 L92.10,209.00 L93.60,209.00 L95.10,209.00 L96.60,209.00 L98.10,209.00 L99.60,209.00 L101.10,209.00 L102.60,209.00 L104.10,209.00 L105.60,209.00 L107.10,209.00 L108.60,209.00 L110.10,209.00 L111.60,209.00 L113.10,209.00 L114.60,209.00 L116.10,209.00 L117.60,209.00 L119.10,209.00 L120.60,209.00 L122.10,209.00 L123.60,209.00 L125.10,209.00 L126.60,209.00 L128.10,209.00 L129.60,209.00 L131.10,209.00 L132.60,209.00 L134.10,209.00 L135.60,209.00 L137.10,209.00 L138.60,209.00 L140.10,209.00 L141.60,209.00 L143.10,209.00 L144.60,209.00 L146.10,209.00 L147.60,209.00 L149.10,209.00 L150.60,209.00 L152.10,209.00 L153.60,209.00 L155.10,209.00 L156.60,209.00 L158.10,209.00 L159.60,209.00 L161.10,209.00 L162.60,209.00 L164.10,209.00 L165.60,209.00 L167.10,209.00 L168.60,209.00 L170.10,209.00 L171.60,209.00 L173.10,209.00 L174.60,209.00 L176.10,209.00 L177.60,209.00 L179.10,209.00 L180.60,209.00 L182.10,209.00 L183.60,209.00 L185.10,209.00 L186.60,209.00 L188.10,209.00 L189.60,209.00 L191.10,209.00 L192.60,209.00 L194.10,209.00 L195.60,209.00 L197.10,209.00 L198.60,209.00 L200.10,209.00 L201.60,209.00 L203.10,209.00 L204.60,209.00 L206.10,209.00 L207.60,209.00 L209.10,209.00 L210.60,209.00 L212.10,209.00 L213.60,209.00 L215.10,209.00 L216.60,209.00 L218.10,209.00 L219.60,209.00 L221.10,209.00 L222.60,209.00 L224.10,209.00 L225.60,209.00 L227.10,209.00 L228.60,209.00 L230.10,209.00 L231.60,209.00 L233.10,209.00 L234.60,209.00 L236.10,209.00 L237.60,209.00 L239.10,209.00 L240.60,209.00 L242.10,209.00 L243.60,209.00 L245.10,209.00 L246.60,209.00 L248.10,209.00 L249.60,209.00 L251.10,209.00 L252.60,209.00 L254.10,209.00 L255.60,209.00 L257.10,209.00 L258.60,209.00 L260.10,209.00 L261.60,209.00 L263.10,209.00 L264.60,209.00 L266.10,209.00 L267.60,209.00 L269.10,209.00 L270.60,209.00 L272.10,209.00 L273.60,209.00 L275.10,209.00 L276.60,209.00 L278.10,209.00 L279.60,209.00 L281.10,209.00 L282.60,209.00 L284.10,209.00 L285.60,209.00 L287.10,209.00 L288.60,209.00 L290.10,209.00 L291.60,209.00 L293.10,209.00 L294.60,209.00 L296.10,209.00 L297.60,209.00 L299.10,209.00 L300.60,209.00 L302.10,209.00 L303.60,209.00 L305.10,209.00 L306.60,209.00 L308.10,209.00 L309.60,209.00 L311.10,209.00 L312.60,209.00 L314.10,209.00 L315.60,209.00 L317.10,209.00 L318.60,209.00 L320.10,209.00 L321.60,209.00 L323.10,209.00 L324.60,209.00 L326.10,209.00 L327.60,209.00 L329.10,209.00 L330.60,209.00 L332.10,209.00 L333.60,209.00 L335.10,209.00 L336.60,209.00 L338.10,209.00 L339.60,209.00 L341.10,209.00 L342.60,209.00 L344.10,209.00 L345.60,209.00 L347.10,209.00 L348.60,209.00 L350.10,209.00 L351.60,209.00 L353.10,209.00 L354.60,209.00 L356.10,209.00 L357.60,209.00 L359.10,209.00 L360.60,209.00 L362.10,209.00 L363.60,209.00 L365.10,209.00 L366.60,209.00 L368.10,209.00 L369.60,209.00 L371.10,209.00 L372.60,209.00 L374.10,209.00 L375.60,209.00 L377.10,209.00 L378.60,209.00 L380.10,209.00 L381.60,209.00 L383.10,209.00 L384.60,209.00 L386.10,209.00 L387.60,209.00 L389.10,209.00 L390.60,209.00 L392.10,209.00 L393.60,209.00 L395.10,209.00 L396.60,209.00 L398.10,209.00 L399.60,209.00 L401.10,209.00 L402.60,209.00 L404.10,209.00 L405.60,209.00 L407.10,209.00 L408.60,209.00 L410.10,209.00 L411.60,209.00 L413.10,209.00 L414.60,209.00 L416.10,209.00 L417.60,209.00 L419.10,209.00 L420.60,209.00 L422.10,209.00 L423.60,209.00 L425.10,209.00 L426.60,209.00 L428.10,209.00 L429.60,209.00 L431.10,209.00 L432.60,209.00 L434.10,209.00 L435.60,209.00 L437.10,209.00 L438.60,209.00 L440.10,209.00 L441.60,209.00 L443.10,209.00 L444.60,209.00 L446.10,209.00 L447.60,209.00 L449.10,209.00 L450.60,209.00 L452.10,209.00 L453.60,209.00 L455.10,209.00 L456.60,209.01 L458.10,209.01 L459.60,209.01 L461.10,209.01 L462.60,209.02 L464.10,209.02 L465.60,209.03 L467.10,209.03 L468.60,209.04 L470.10,209.04 L471.60,209.05 L473.10,209.05 L474.60,209.06 L476.10,209.07 L477.60,209.07 L479.10,209.08 L480.60,209.08 L482.10,209.09 L483.60,209.10 L485.10,209.10 L486.60,209.11 L488.10,209.12 L489.60,209.12 L491.10,209.13 L492.60,209.14 L494.10,209.14 L495.60,209.15 L497.10,209.16 L498.60,209.17 L500.10,209.17 L501.60,209.18 L503.10,209.19 L504.60,209.20 L506.10,209.21 L507.60,209.22 L509.10,209.23 L510.60,209.24 L512.10,209.25 L513.60,209.26 L515.10,209.27 L516.60,209.29 L518.10,209.30 L519.60,209.31 L521.10,209.33 L522.60,209.34 L524.10,209.36 L525.60,209.37 L527.10,209.39 L528.60,209.41 L530.10,209.42 L531.60,209.44 L533.10,209.46 L534.60,209.48 L536.10,209.50 L537.60,209.52 L539.10,209.54 L540.60,209.57 L542.10,209.59 L543.60,209.61 L545.10,209.65 L546.60,209.69 L548.10,209.73 L549.60,209.78 L551.10,209.84 L552.60,209.91 L554.10,209.98 L555.60,210.06 L557.10,210.14 L558.60,210.23 L560.10,210.32 L561.59,210.41 L563.09,210.51 L564.59,210.62 L566.08,210.73 L567.57,210.84 L569.07,210.95 L570.56,211.07 L572.05,211.20 L573.55,211.34 L575.05,211.50 L576.56,211.67 L578.06,211.86 L579.56,212.05 L581.07,212.26 L582.56,212.49 L584.06,212.72 L585.55,212.97 L587.03,213.23 L588.51,213.50 L589.97,213.79 L591.43,214.08 L592.87,214.39 L594.31,214.72 L595.73,215.05 L597.15,215.43 L598.58,215.86 L600.01,216.32 L601.43,216.83 L602.86,217.38 L604.27,217.96 L605.68,218.57 L607.08,219.21 L608.47,219.88 L609.84,220.58 L611.19,221.29 L612.53,222.03 L613.84,222.78 L615.14,223.55 L616.40,224.32 L617.64,225.11 L618.85,225.90 L620.04,226.71 L621.21,227.58 L622.37,228.48 L623.51,229.43 L624.65,230.42 L625.76,231.44 L626.86,232.49 L627.95,233.57 L629.02,234.68 L630.07,235.80 L631.10,236.94 L632.11,238.10 L633.10,239.26 L634.07,240.43 L635.02,241.60 L635.95,242.78 L636.86,243.94 L637.74,245.12 L638.61,246.31 L639.46,247.52 L640.29,248.76 L641.11,250.01 L641.92,251.27 L642.71,252.55 L643.49,253.84 L644.26,255.14 L645.01,256.45 L645.76,257.77 L646.49,259.09 L647.22,260.42 L647.94,261.75 L648.66,263.09 L649.36,264.42 L650.06,265.76 L650.76,267.09 L651.45,268.42 L652.14,269.75 L652.82,271.08 L653.48,272.42 L654.14,273.77 L654.78,275.12 L655.42,276.48 L656.05,277.84 L656.68,279.21 L657.30,280.58 L657.91,281.95 L658.52,283.32 L659.13,284.69 L659.74,286.07 L660.35,287.44 L660.96,288.81 L661.57,290.18 L662.18,291.55 L662.79,292.92 L663.41,294.29 L664.02,295.66 L664.63,297.03 L665.24,298.40 L665.85,299.77 L666.46,301.15 L667.08,302.52 L667.71,303.90 L668.33,305.27 L668.96,306.65 L669.58,308.03 L670.19,309.42 L670.79,310.80 L671.39,312.19 L671.97,313.58 L672.54,314.97 L673.10,316.37 L673.64,317.77 L674.18,319.17 L674.71,320.57 L675.22,321.98 L675.73,323.38 L676.23,324.79 L676.73,326.20 L677.21,327.62 L677.70,329.03 L678.17,330.45 L678.64,331.87 L679.11,333.28 L679.58,334.70 L680.04,336.12 L680.50,337.54 L680.96,338.96 L681.42,340.38 L681.88,341.80 L682.34,343.23 L682.80,344.65 L683.25,346.08 L683.72,347.50 L684.18,348.93 L684.64,350.36 L685.10,351.79 L685.56,353.22 L686.03,354.65 L686.49,356.08 L686.95,357.50 L687.42,358.93 L687.88,360.36 L688.34,361.78 L688.81,363.21 L689.27,364.64 L689.74,366.06 L690.20,367.49 L690.67,368.91 L691.14,370.34 L691.60,371.77 L692.07,373.19 L692.53,374.62 L693.00,376.04 L693.47,377.47 L693.94,378.89 L694.41,380.32 L694.87,381.74 L695.34,383.17 L695.81,384.59 L696.28,386.02 L696.75,387.44 L697.22,388.87 L697.69,390.29 L698.16,391.71 L698.63,393.14 L699.11,394.56 L699.58,395.99 L700.05,397.41 L700.52,398.83 L700.99,400.26 L701.47,401.68 L701.94,403.10 L702.41,404.53 L702.89,405.95 L703.36,407.37 L703.84,408.80 L704.31,410.22 L704.79,411.64 L705.26,413.06 L705.74,414.49 L706.22,415.91 L706.69,417.33 L707.17,418.75 L707.65,420.18 L708.12,421.60 L708.60,423.02 L709.08,424.44 L709.56,425.86 L710.04,427.28 L710.52,428.71 L711.00,430.13 L711.47,431.55 L711.96,432.97 L712.44,434.39 L712.92,435.81 L713.40,437.23 L713.88,438.65 L714.36,440.07 L714.84,441.49 L715.32,442.91 L715.81,444.33 L716.29,445.75 L716.77,447.17 L717.26,448.59 L717.74,450.01 L718.23,451.43 L718.71,452.85 L719.19,454.27 L719.68,455.69 L720.17,457.11 L720.65,458.53 L721.14,459.95 L721.62,461.37 L722.11,462.79 L722.60,464.21 L723.09,465.62 L723.57,467.04 L724.06,468.46 L724.55,469.88 L725.04,471.30 L725.53,472.72 L726.02,474.13 L726.51,475.55 L727.00,476.97 L727.49,478.39 L727.98,479.80 L728.47,481.22 L728.96,482.64 L729.45,484.06 L729.94,485.47 L730.43,486.89 L730.93,488.31 L731.42,489.72 L731.91,491.14 L732.41,492.56 L732.90,493.97 L733.39,495.39 L733.89,496.81 L734.38,498.22 L734.88,499.64 L735.37,501.05 L735.87,502.47 L736.36,503.89 L736.86,505.30 L737.36,506.72 L737.85,508.13 L738.35,509.55 L738.85,510.96 L739.35,512.38 L739.85,513.79 L740.34,515.21 L740.84,516.62 L741.34,518.04 L741.84,519.45 L742.34,520.86 L742.84,522.28 L743.34,523.69 L743.84,525.11 L744.34,526.52 L744.84,527.93 L745.35,529.35 L745.85,530.76 L746.35,532.18 L746.85,533.59 L747.35,535.00 L747.86,536.41 L748.36,537.83 L748.87,539.24 L749.37,540.65 L749.87,542.07 L750.38,543.48 L750.88,544.89 L751.39,546.30 L751.89,547.72 L752.40,549.13 L752.91,550.54 L753.41,551.95 L753.92,553.36 L754.43,554.77 L754.93,556.19 L755.44,557.60 L755.95,559.01 L756.46,560.42 L756.97,561.83 L757.48,563.24 L757.99,564.65 L758.50,566.06 L759.01,567.47 L759.52,568.89 L760.03,570.30 L760.54,571.71 L761.05,573.12 L761.56,574.53 L762.07,575.94 L762.58,577.35 L763.10,578.76 L763.61,580.17 L764.12,581.57 L764.64,582.98 L765.15,584.39 L765.66,585.80 L766.18,587.21 L766.69,588.62 L767.21,590.03 L767.72,591.44 L768.24,592.85 L768.76,594.26 L769.27,595.66 L769.79,597.07 L770.30,598.48 L770.82,599.89 L771.34,601.30 L771.86,602.70 L772.38,604.11 L772.89,605.52 L773.41,606.93 L773.93,608.33 L774.45,609.74 L774.97,611.15 L775.49,612.56 L776.01,613.96 L776.53,615.37 L777.05,616.78 L777.57,618.18 L778.09,619.59 L778.62,621.00 L779.14,622.40 L779.66,623.81 L780.18,625.21 L780.71,626.62 L781.23,628.03 L781.75,629.43 L782.28,630.84 L782.80,632.24 L783.32,633.65 L783.85,635.05 L784.37,636.46 L784.90,637.86 L785.43,639.27 L785.95,640.67 L786.48,642.08 L787.00,643.48 L787.53,644.89 L788.06,646.29 L788.59,647.69 L789.11,649.10 L789.64,650.50 L790.17,651.91 L790.70,653.31 L791.23,654.71 L791.76,656.12 L792.29,657.52 L792.82,658.92 L793.35,660.33 L793.88,661.73 L794.41,663.13 L794.94,664.54 L795.47,665.94 L796.00,667.34 L796.54,668.74 L797.07,670.15 L797.60,671.55 L798.13,672.95 L798.67,674.35 L799.20,675.75 L799.73,677.16 L800.27,678.56 L800.80,679.96 L801.34,681.36 L801.87,682.76 L802.41,684.16 L802.94,685.56 L803.48,686.96 L804.02,688.37 L804.55,689.77 L805.09,691.17 L805.63,692.57 L806.17,693.97 L806.70,695.37 L807.24,696.77 L807.78,698.17 L808.32,699.57 L808.86,700.97 L809.40,702.37 L809.94,703.77 L810.48,705.17 L811.02,706.57 L811.56,707.96 L812.10,709.36 L812.64,710.76 L813.18,712.16 L813.72,713.56 L814.26,714.96 L814.81,716.36 L815.35,717.76 L815.79,718.90" stroke="#0000AA" stroke-width="6.05" fill="none" stroke-dasharray="13.8 12.53" stroke-linejoin="round"/>
<path d="M89.10,248.90 L90.60,248.90 L92.10,248.90 L93.60,248.90 L95.10,248.90 L96.60,248.90 L98.10,248.90 L99.60,248.90 L101.10,248.90 L102.60,248.90 L104.10,248.90 L105.60,248.90 L107.10,248.90 L108.60,248.90 L110.10,248.90 L111.60,248.90 L113.10,248.90 L114.60,248.90 L116.10,248.90 L117.60,248.90 L119.10,248.90 L120.60,248.90 L122.10,248.90 L123.60,248.90 L125.10,248.90 L126.60,248.90 L128.10,248.90 L129.60,248.90 L131.10,248.90 L132.60,248.90 L134.10,248.90 L135.60,248.90 L137.10,248.90 L138.60,248.90 L140.10,248.90 L141.60,248.90 L143.10,248.90 L144.60,248.90 L146.10,248.90 L147.60,248.90 L149.10,248.90 L150.60,248.90 L152.10,248.90 L153.60,248.90 L155.10,248.90 L156.60,248.90 L158.10,248.90 L159.60,248.90 L161.10,248.90 L162.60,248.90 L164.10,248.90 L165.60,248.90 L167.10,248.90 L168.60,248.90 L170.10,248.90 L171.60,248.90 L173.10,248.90 L174.60,248.90 L176.10,248.90 L177.60,248.90 L179.10,248.90 L180.60,248.90 L182.10,248.90 L183.60,248.90 L185.10,248.90 L186.60,248.90 L188.10,248.90 L189.60,248.90 L191.10,248.90 L192.60,248.90 L194.10,248.90 L195.60,248.90 L197.10,248.90 L198.60,248.90 L200.10,248.90 L201.60,248.90 L203.10,248.90 L204.60,248.90 L206.10,248.90 L207.60,248.90 L209.10,248.90 L210.60,248.90 L212.10,248.90 L213.60,248.90 L215.10,248.90 L216.60,248.90 L218.10,248.90 L219.60,248.90 L221.10,248.90 L222.60,248.90 L224.10,248.90 L225.60,248.90 L227.10,248.90 L228.60,248.90 L230.10,248.90 L231.60,248.90 L233.10,248.90 L234.60,248.90 L236.10,248.90 L237.60,248.90 L239.10,248.90 L240.60,248.90 L242.10,248.90 L243.60,248.90 L245.10,248.90 L246.60,248.90 L248.10,248.90 L249.60,248.90 L251.10,248.90 L252.60,248.90 L254.10,248.90 L255.60,248.90 L257.10,248.90 L258.60,248.90 L260.10,248.90 L261.60,248.90 L263.10,248.90 L264.60,248.90 L266.10,248.90 L267.60,248.90 L269.10,248.90 L270.60,248.90 L272.10,248.90 L273.60,248.90 L275.10,248.90 L276.60,248.90 L278.10,248.90 L279.60,248.90 L281.10,248.90 L282.60,248.90 L284.10,248.90 L285.60,248.90 L287.10,248.90 L288.60,248.90 L290.10,248.90 L291.60,248.90 L293.10,248.90 L294.60,248.90 L296.10,248.90 L297.60,248.90 L299.10,248.90 L300.60,248.90 L302.10,248.90 L303.60,248.90 L305.10,248.90 L306.60,248.90 L308.10,248.90 L309.60,248.90 L311.10,248.90 L312.60,248.90 L314.10,248.90 L315.60,248.90 L317.10,248.90 L318.60,248.90 L320.10,248.90 L321.60,248.90 L323.10,248.90 L324.60,248.90 L326.10,248.90 L327.60,248.90 L329.10,248.90 L330.60,248.90 L332.10,248.90 L333.60,248.90 L335.10,248.90 L336.60,248.90 L338.10,248.90 L339.60,248.90 L341.10,248.90 L342.60,248.90 L344.10,248.90 L345.60,248.90 L347.10,248.90 L348.60,248.90 L350.10,248.90 L351.60,248.90 L353.10,248.90 L354.60,248.90 L356.10,248.90 L357.60,248.90 L359.10,248.90 L360.60,248.90 L362.10,248.90 L363.60,248.90 L365.10,248.90 L366.60,248.90 L368.10,248.90 L369.60,248.90 L371.10,248.90 L372.60,248.90 L374.10,248.90 L375.60,248.90 L377.10,248.90 L378.60,248.90 L380.10,248.90 L381.60,248.90 L383.10,248.90 L384.60,248.90 L386.10,248.90 L387.60,248.90 L389.10,248.90 L390.60,248.90 L392.10,248.90 L393.60,248.90 L395.10,248.90 L396.60,248.90 L398.10,248.90 L399.60,248.90 L401.10,248.90 L402.60,248.90 L404.10,248.90 L405.60,248.90 L407.10,248.90 L408.60,248.90 L410.10,248.90 L411.60,248.90 L413.10,248.90 L414.60,248.90 L416.10,248.90 L417.60,248.90 L419.10,248.90 L420.60,248.90 L422.10,248.90 L423.60,248.90 L425.10,248.90 L426.60,248.90 L428.10,248.90 L429.60,248.90 L431.10,248.90 L432.60,248.90 L434.10,248.90 L435.60,248.90 L437.10,248.90 L438.60,248.90 L440.10,248.90 L441.60,248.90 L443.10,248.90 L444.60,248.90 L446.10,248.90 L447.60,248.90 L449.10,248.90 L450.60,248.90 L452.10,248.90 L453.60,248.90 L455.10,248.90 L456.60,248.90 L458.10,248.90 L459.60,248.90 L461.10,248.90 L462.60,248.90 L464.10,248.90 L465.60,248.90 L467.10,248.90 L468.60,248.90 L470.10,248.90 L471.60,248.90 L473.10,248.90 L474.60,248.90 L476.10,248.90 L477.60,248.90 L479.10,248.90 L480.60,248.90 L482.10,248.90 L483.60,248.90 L485.10,248.90 L486.60,248.90 L488.10,248.90 L489.60,248.90 L491.10,248.90 L492.60,248.90 L494.10,248.90 L495.60,248.90 L497.10,248.90 L498.60,248.90 L500.10,248.91 L501.60,248.91 L503.10,248.91 L504.60,248.91 L506.10,248.92 L507.60,248.92 L509.10,248.92 L510.61,248.93 L512.11,248.93 L513.61,248.94 L515.11,248.94 L516.61,248.95 L518.11,248.95 L519.61,248.96 L521.11,248.97 L522.61,248.97 L524.11,248.98 L525.61,248.99 L527.11,249.00 L528.61,249.01 L530.11,249.02 L531.62,249.03 L533.12,249.03 L534.62,249.05 L536.12,249.06 L537.62,249.07 L539.12,249.08 L540.62,249.09 L542.12,249.10 L543.62,249.12 L545.12,249.13 L546.62,249.14 L548.12,249.16 L549.62,249.17 L551.12,249.19 L552.62,249.20 L554.12,249.22 L555.62,249.23 L557.12,249.25 L558.62,249.27 L560.11,249.29 L561.61,249.30 L563.11,249.32 L564.61,249.34 L566.11,249.36 L567.61,249.38 L569.11,249.40 L570.61,249.42 L572.10,249.45 L573.60,249.47 L575.10,249.49 L576.60,249.52 L578.09,249.56 L579.59,249.63 L581.09,249.70 L582.59,249.80 L584.09,249.90 L585.58,250.02 L587.08,250.14 L588.58,250.28 L590.07,250.42 L591.57,250.56 L593.06,250.70 L594.55,250.85 L596.04,250.99 L597.53,251.15 L599.02,251.32 L600.52,251.50 L602.01,251.70 L603.50,251.90 L604.98,252.12 L606.47,252.35 L607.95,252.59 L609.43,252.83 L610.90,253.09 L612.37,253.36 L613.84,253.65 L615.32,253.95 L616.79,254.27 L618.27,254.60 L619.74,254.96 L621.20,255.33 L622.66,255.73 L624.10,256.14 L625.54,256.57 L626.96,257.01 L628.36,257.48 L629.75,257.98 L631.14,258.52 L632.52,259.11 L633.90,259.73 L635.26,260.39 L636.62,261.08 L637.96,261.80 L639.28,262.54 L640.58,263.31 L641.86,264.09 L643.12,264.89 L644.35,265.70 L645.57,266.54 L646.79,267.42 L648.00,268.33 L649.20,269.27 L650.38,270.24 L651.53,271.24 L652.66,272.26 L653.76,273.31 L654.83,274.37 L655.85,275.45 L656.83,276.55 L657.77,277.67 L658.67,278.83 L659.54,280.03 L660.38,281.26 L661.20,282.52 L662.00,283.81 L662.78,285.11 L663.54,286.43 L664.29,287.76 L665.02,289.08 L665.75,290.41 L666.47,291.72 L667.18,293.04 L667.87,294.37 L668.54,295.70 L669.21,297.05 L669.86,298.40 L670.51,299.76 L671.14,301.12 L671.78,302.48 L672.40,303.85 L673.03,305.21 L673.67,306.57 L674.33,307.94 L674.99,309.30 L675.66,310.66 L676.33,312.02 L677.00,313.39 L677.65,314.76 L678.29,316.13 L678.91,317.50 L679.50,318.88 L680.08,320.27 L680.64,321.65 L681.17,323.05 L681.68,324.44 L682.18,325.85 L682.67,327.26 L683.15,328.67 L683.62,330.09 L684.08,331.51 L684.54,332.93 L684.99,334.36 L685.44,335.79 L685.89,337.21 L686.34,338.64 L686.79,340.07 L687.23,341.50 L687.68,342.92 L688.12,344.35 L688.57,345.78 L689.02,347.21 L689.47,348.64 L689.92,350.08 L690.37,351.51 L690.82,352.94 L691.27,354.38 L691.72,355.81 L692.17,357.24 L692.62,358.67 L693.08,360.10 L693.53,361.53 L693.98,362.96 L694.43,364.39 L694.89,365.82 L695.34,367.25 L695.79,368.68 L696.25,370.11 L696.70,371.54 L697.16,372.97 L697.61,374.40 L698.07,375.82 L698.53,377.25 L698.98,378.68 L699.44,380.11 L699.90,381.54 L700.35,382.97 L700.81,384.40 L701.27,385.82 L701.73,387.25 L702.19,388.68 L702.65,390.11 L703.11,391.54 L703.57,392.96 L704.03,394.39 L704.49,395.82 L704.95,397.25 L705.41,398.67 L705.88,400.10 L706.34,401.53 L706.80,402.95 L707.27,404.38 L707.73,405.81 L708.19,407.23 L708.66,408.66 L709.12,410.09 L709.59,411.51 L710.05,412.94 L710.52,414.36 L710.99,415.79 L711.45,417.21 L711.92,418.64 L712.39,420.07 L712.86,421.49 L713.32,422.92 L713.79,424.34 L714.26,425.77 L714.73,427.19 L715.20,428.61 L715.67,430.04 L716.14,431.46 L716.61,432.89 L717.08,434.31 L717.55,435.74 L718.03,437.16 L718.50,438.58 L718.97,440.01 L719.44,441.43 L719.92,442.85 L720.39,444.28 L720.87,445.70 L721.34,447.12 L721.81,448.55 L722.29,449.97 L722.77,451.39 L723.24,452.81 L723.72,454.24 L724.19,455.66 L724.67,457.08 L725.15,458.50 L725.63,459.92 L726.10,461.35 L726.58,462.77 L727.06,464.19 L727.54,465.61 L728.02,467.03 L728.50,468.45 L728.98,469.87 L729.46,471.29 L729.94,472.72 L730.43,474.14 L730.91,475.56 L731.39,476.98 L731.87,478.40 L732.35,479.82 L732.84,481.24 L733.32,482.66 L733.81,484.08 L734.29,485.50 L734.78,486.92 L735.26,488.34 L735.75,489.75 L736.23,491.17 L736.72,492.59 L737.20,494.01 L737.69,495.43 L738.18,496.85 L738.67,498.27 L739.15,499.69 L739.64,501.10 L740.13,502.52 L740.62,503.94 L741.11,505.36 L741.60,506.78 L742.09,508.19 L742.58,509.61 L743.07,511.03 L743.56,512.45 L744.06,513.86 L744.55,515.28 L745.04,516.70 L745.53,518.11 L746.03,519.53 L746.52,520.95 L747.01,522.36 L747.51,523.78 L748.00,525.19 L748.50,526.61 L748.99,528.03 L749.49,529.44 L749.98,530.86 L750.48,532.27 L750.98,533.69 L751.48,535.10 L751.97,536.52 L752.47,537.93 L752.97,539.35 L753.47,540.76 L753.97,542.18 L754.47,543.59 L754.97,545.01 L755.47,546.42 L755.97,547.84 L756.47,549.25 L756.97,550.66 L757.47,552.08 L757.97,553.49 L758.47,554.90 L758.98,556.32 L759.48,557.73 L759.98,559.14 L760.49,560.56 L760.99,561.97 L761.49,563.38 L762.00,564.79 L762.50,566.21 L763.01,567.62 L763.52,569.03 L764.02,570.44 L764.53,571.85 L765.03,573.27 L765.54,574.68 L766.05,576.09 L766.56,577.50 L767.07,578.91 L767.57,580.32 L768.08,581.73 L768.59,583.15 L769.10,584.56 L769.61,585.97 L770.12,587.38 L770.63,588.79 L771.15,590.20 L771.66,591.61 L772.17,593.02 L772.68,594.43 L773.19,595.84 L773.71,597.25 L774.22,598.66 L774.73,600.07 L775.25,601.47 L775.76,602.88 L776.28,604.29 L776.79,605.70 L777.31,607.11 L777.82,608.52 L778.34,609.93 L778.86,611.34 L779.37,612.74 L779.89,614.15 L780.41,615.56 L780.92,616.97 L781.44,618.37 L781.96,619.78 L782.48,621.19 L783.00,622.60 L783.52,624.00 L784.04,625.41 L784.56,626.82 L785.08,628.22 L785.60,629.63 L786.12,631.04 L786.65,632.44 L787.17,633.85 L787.69,635.26 L788.21,636.66 L788.74,638.07 L789.26,639.47 L789.78,640.88 L790.31,642.28 L790.83,643.69 L791.36,645.10 L791.88,646.50 L792.41,647.90 L792.93,649.31 L793.46,650.71 L793.99,652.12 L794.51,653.52 L795.04,654.93 L795.57,656.33 L796.10,657.74 L796.63,659.14 L797.15,660.54 L797.68,661.95 L798.21,663.35 L798.74,664.75 L799.27,666.16 L799.80,667.56 L800.34,668.96 L800.87,670.37 L801.40,671.77 L801.93,673.17 L802.46,674.57 L802.99,675.97 L803.53,677.38 L804.06,678.78 L804.59,680.18 L805.13,681.58 L805.66,682.98 L806.20,684.39 L806.73,685.79 L807.27,687.19 L807.80,688.59 L808.34,689.99 L808.88,691.39 L809.41,692.79 L809.95,694.19 L810.49,695.59 L811.03,696.99 L811.56,698.39 L812.10,699.79 L812.64,701.19 L813.18,702.59 L813.72,703.99 L814.26,705.39 L814.80,706.79 L815.34,708.19 L815.58,708.80" stroke="#FF8000" stroke-width="6.05" fill="none" stroke-dasharray="8.6 8.70" stroke-linejoin="round"/>
<path d="M89.10,187.40 L90.60,187.40 L92.10,187.40 L93.60,187.40 L95.10,187.40 L96.60,187.40 L98.10,187.40 L99.60,187.40 L101.10,187.40 L102.60,187.40 L104.10,187.40 L105.60,187.40 L107.10,187.40 L108.60,187.40 L110.10,187.40 L111.60,187.40 L113.10,187.40 L114.60,187.40 L116.10,187.40 L117.60,187.40 L119.10,187.40 L120.60,187.40 L122.10,187.40 L123.60,187.40 L125.10,187.40 L126.60,187.40 L128.10,187.40 L129.60,187.40 L131.10,187.40 L132.60,187.40 L134.10,187.40 L135.60,187.40 L137.10,187.40 L138.60,187.40 L140.10,187.40 L141.60,187.40 L143.10,187.40 L144.60,187.40 L146.10,187.40 L147.60,187.40 L149.10,187.40 L150.60,187.40 L152.10,187.40 L153.60,187.40 L155.10,187.40 L156.60,187.40 L158.10,187.40 L159.60,187.40 L161.10,187.40 L162.60,187.40 L164.10,187.40 L165.60,187.40 L167.10,187.40 L168.60,187.40 L170.10,187.40 L171.60,187.40 L173.10,187.40 L174.60,187.40 L176.10,187.40 L177.60,187.40 L179.10,187.40 L180.60,187.40 L182.10,187.40 L183.60,187.40 L185.10,187.40 L186.60,187.40 L188.10,187.40 L189.60,187.40 L191.10,187.40 L192.60,187.40 L194.10,187.40 L195.60,187.40 L197.10,187.40 L198.60,187.40 L200.10,187.40 L201.60,187.40 L203.10,187.40 L204.60,187.40 L206.10,187.40 L207.60,187.40 L209.10,187.40 L210.60,187.40 L212.10,187.40 L213.60,187.40 L215.10,187.40 L216.60,187.40 L218.10,187.40 L219.60,187.40 L221.10,187.40 L222.60,187.40 L224.10,187.40 L225.60,187.40 L227.10,187.40 L228.60,187.40 L230.10,187.40 L231.60,187.40 L233.10,187.40 L234.60,187.40 L236.10,187.40 L237.60,187.40 L239.10,187.40 L240.60,187.40 L242.10,187.40 L243.60,187.40 L245.10,187.40 L246.60,187.40 L248.10,187.40 L249.60,187.40 L251.10,187.40 L252.60,187.40 L254.10,187.40 L255.60,187.40 L257.10,187.40 L258.60,187.40 L260.10,187.40 L261.60,187.40 L263.10,187.40 L264.60,187.40 L266.10,187.40 L267.60,187.40 L269.10,187.40 L270.60,187.40 L272.10,187.40 L273.60,187.40 L275.10,187.40 L276.60,187.40 L278.10,187.40 L279.60,187.40 L281.10,187.40 L282.60,187.40 L284.10,187.40 L285.60,187.40 L287.10,187.40 L288.60,187.40 L290.10,187.40 L291.60,187.40 L293.10,187.40 L294.60,187.40 L296.10,187.40 L297.60,187.40 L299.10,187.40 L300.60,187.40 L302.10,187.40 L303.60,187.40 L305.10,187.40 L306.60,187.40 L308.10,187.40 L309.60,187.40 L311.10,187.40 L312.60,187.40 L314.10,187.40 L315.60,187.40 L317.10,187.40 L318.60,187.40 L320.10,187.40 L321.60,187.40 L323.10,187.40 L324.60,187.40 L326.10,187.40 L327.60,187.40 L329.10,187.40 L330.60,187.40 L332.10,187.40 L333.60,187.40 L335.10,187.40 L336.60,187.40 L338.10,187.40 L339.60,187.40 L341.10,187.40 L342.60,187.40 L344.10,187.40 L345.60,187.40 L347.10,187.40 L348.60,187.40 L350.10,187.40 L351.60,187.40 L353.10,187.40 L354.60,187.40 L356.10,187.40 L357.60,187.40 L359.10,187.40 L360.60,187.40 L362.10,187.40 L363.60,187.40 L365.10,187.40 L366.60,187.40 L368.10,187.40 L369.60,187.40 L371.10,187.40 L372.60,187.40 L374.10,187.40 L375.60,187.40 L377.10,187.40 L378.60,187.40 L380.10,187.40 L381.60,187.40 L383.10,187.40 L384.60,187.40 L386.10,187.40 L387.60,187.40 L389.10,187.40 L390.60,187.40 L392.10,187.40 L393.60,187.40 L395.10,187.40 L396.60,187.40 L398.10,187.40 L399.60,187.40 L401.10,187.40 L402.60,187.40 L404.10,187.40 L405.60,187.40 L407.10,187.40 L408.60,187.40 L410.10,187.40 L411.60,187.40 L413.10,187.40 L414.60,187.40 L416.10,187.40 L417.60,187.40 L419.10,187.40 L420.60,187.40 L422.10,187.40 L423.60,187.40 L425.10,187.40 L426.60,187.40 L428.10,187.40 L429.60,187.40 L431.10,187.40 L432.60,187.40 L434.10,187.40 L435.60,187.40 L437.10,187.40 L438.60,187.40 L440.10,187.40 L441.60,187.40 L443.10,187.40 L444.60,187.40 L446.10,187.40 L447.60,187.40 L449.10,187.40 L450.60,187.40 L452.10,187.40 L453.60,187.40 L455.10,187.40 L456.60,187.40 L458.10,187.40 L459.60,187.40 L461.10,187.40 L462.60,187.40 L464.10,187.40 L465.60,187.40 L467.10,187.40 L468.60,187.40 L470.10,187.40 L471.60,187.40 L473.10,187.40 L474.60,187.40 L476.10,187.40 L477.60,187.40 L479.10,187.40 L480.60,187.40 L482.10,187.40 L483.60,187.40 L485.10,187.40 L486.60,187.40 L488.10,187.40 L489.60,187.40 L491.10,187.40 L492.60,187.40 L494.10,187.41 L495.60,187.41 L497.10,187.41 L498.60,187.41 L500.10,187.41 L501.60,187.41 L503.10,187.42 L504.60,187.42 L506.10,187.42 L507.60,187.42 L509.10,187.43 L510.60,187.43 L512.10,187.43 L513.60,187.44 L515.10,187.44 L516.60,187.44 L518.10,187.45 L519.60,187.45 L521.10,187.46 L522.60,187.46 L524.10,187.47 L525.60,187.47 L527.10,187.48 L528.60,187.48 L530.10,187.49 L531.61,187.49 L533.11,187.50 L534.61,187.50 L536.11,187.51 L537.61,187.52 L539.11,187.52 L540.61,187.53 L542.11,187.54 L543.61,187.54 L545.11,187.55 L546.60,187.56 L548.10,187.56 L549.60,187.57 L551.10,187.58 L552.60,187.59 L554.10,187.60 L555.60,187.61 L557.10,187.62 L558.60,187.62 L560.10,187.63 L561.60,187.64 L563.10,187.65 L564.60,187.66 L566.10,187.67 L567.60,187.68 L569.10,187.70 L570.60,187.71 L572.10,187.73 L573.60,187.75 L575.10,187.78 L576.60,187.82 L578.10,187.87 L579.60,187.92 L581.10,187.97 L582.60,188.03 L584.10,188.10 L585.60,188.17 L587.10,188.24 L588.60,188.32 L590.10,188.40 L591.59,188.48 L593.09,188.57 L594.58,188.66 L596.07,188.78 L597.56,188.91 L599.05,189.06 L600.54,189.23 L602.03,189.42 L603.51,189.62 L605.00,189.83 L606.49,190.06 L607.97,190.29 L609.45,190.54 L610.94,190.79 L612.42,191.05 L613.90,191.31 L614.40,191.40" stroke="#007100" stroke-width="6.05" fill="none" stroke-linejoin="round"/>
<path d="M77.3,0 V753.4 H830 M829.5,0 V753.4 M77.3,0.75 H830" stroke="#000" stroke-width="1.4" fill="none"/>
<text x="90.94" y="800.0" font-size="40" textLength="21.36" lengthAdjust="spacingAndGlyphs">4</text>
<text x="290.30" y="800.0" font-size="40" textLength="22.25" lengthAdjust="spacingAndGlyphs">6</text>
<text x="490.46" y="800.0" font-size="40" textLength="20.80" lengthAdjust="spacingAndGlyphs">8</text>
<text x="679.62" y="800.0" font-size="40" textLength="41.27" lengthAdjust="spacingAndGlyphs">10</text>
<text x="54.50" y="740.1" font-size="40" textLength="20.03" lengthAdjust="spacingAndGlyphs">0</text>
<text x="53.39" y="544.5" font-size="40" textLength="21.20" lengthAdjust="spacingAndGlyphs">2</text>
<text x="53.54" y="348.9" font-size="40" textLength="21.36" lengthAdjust="spacingAndGlyphs">4</text>
<text x="54.04" y="153.2" font-size="40" textLength="20.73" lengthAdjust="spacingAndGlyphs">6</text>
<text x="154.80" y="49.0" font-size="26.5" textLength="24.09" lengthAdjust="spacingAndGlyphs">t=</text>
<text x="179.52" y="49.0" font-size="26.5" textLength="51.18" lengthAdjust="spacingAndGlyphs">−2.5</text>
<text x="237.86" y="49.0" font-size="26.5" textLength="11.15" lengthAdjust="spacingAndGlyphs">s</text>
<text x="158.20" y="176.5" font-size="26.5" textLength="24.51" lengthAdjust="spacingAndGlyphs">t=</text>
<text x="183.22" y="176.5" font-size="26.5" textLength="44.14" lengthAdjust="spacingAndGlyphs">−14</text>
<text x="233.92" y="176.5" font-size="26.5" textLength="11.70" lengthAdjust="spacingAndGlyphs">s</text>
<text x="164.12" y="603.5" font-size="30.7" textLength="86.83" lengthAdjust="spacingAndGlyphs">model</text>
<text x="257.80" y="603.5" font-size="30.7" textLength="18.42" lengthAdjust="spacingAndGlyphs">B</text>
<text x="164.12" y="657.3" font-size="30.7" textLength="86.83" lengthAdjust="spacingAndGlyphs">model</text>
<text x="258.41" y="657.3" font-size="30.7" textLength="17.40" lengthAdjust="spacingAndGlyphs">C</text>
<text x="164.14" y="711.0" font-size="30.7" textLength="137.16" lengthAdjust="spacingAndGlyphs">numerical</text>
<text x="341.92" y="859.2" font-size="40.3" textLength="55.98" lengthAdjust="spacingAndGlyphs">log</text>
<text x="395.99" y="868.5" font-size="27.3" textLength="28.96" lengthAdjust="spacingAndGlyphs">10</text>
<text x="427.44" y="859.2" font-size="40.3" textLength="10.49" lengthAdjust="spacingAndGlyphs">(</text>
<text x="448.52" y="859.2" font-size="40.3" textLength="13.30" lengthAdjust="spacingAndGlyphs">r</text>
<text x="471.30" y="859.2" font-size="40.3" textLength="10.69" lengthAdjust="spacingAndGlyphs">/</text>
<text x="491.03" y="859.2" font-size="40.3" textLength="51.93" lengthAdjust="spacingAndGlyphs">cm</text>
<text x="553.80" y="859.2" font-size="40.3" textLength="11.47" lengthAdjust="spacingAndGlyphs">)</text>
<text transform="translate(39.7,523.29) rotate(-90)" font-size="40.3" textLength="56.20" lengthAdjust="spacingAndGlyphs">log</text>
<text transform="translate(48.7,469.25) rotate(-90)" font-size="27.3" textLength="28.10" lengthAdjust="spacingAndGlyphs">10</text>
<text transform="translate(39.7,438.83) rotate(-90)" font-size="40.3" textLength="11.59" lengthAdjust="spacingAndGlyphs">(</text>
<text transform="translate(39.7,415.90) rotate(-90)" font-size="40.3" textLength="23.09" lengthAdjust="spacingAndGlyphs" font-style="italic">ρ</text>
<text transform="translate(39.7,385.80) rotate(-90)" font-size="40.3" textLength="11.10" lengthAdjust="spacingAndGlyphs">/</text>
<text transform="translate(39.7,365.50) rotate(-90)" font-size="40.3" textLength="22.42" lengthAdjust="spacingAndGlyphs">g</text>
<text transform="translate(39.7,335.17) rotate(-90)" font-size="40.3" textLength="52.35" lengthAdjust="spacingAndGlyphs">cm</text>
<text transform="translate(20.7,281.75) rotate(-90)" font-size="27.3" textLength="29.52" lengthAdjust="spacingAndGlyphs">−3</text>
<text transform="translate(39.7,241.50) rotate(-90)" font-size="40.3" textLength="11.71" lengthAdjust="spacingAndGlyphs">)</text>
<path d="M111.5,592.8 H156.0" stroke="#0000AA" stroke-width="4.4" stroke-dasharray="9.1 8.45"/>
<path d="M111.5,646.7 H158.2" stroke="#FF8000" stroke-width="4.4" stroke-dasharray="5.0 2.0"/>
<path d="M111.5,700.5 H158.2" stroke="#007100" stroke-width="4.4"/>
</svg>
</body></html>
